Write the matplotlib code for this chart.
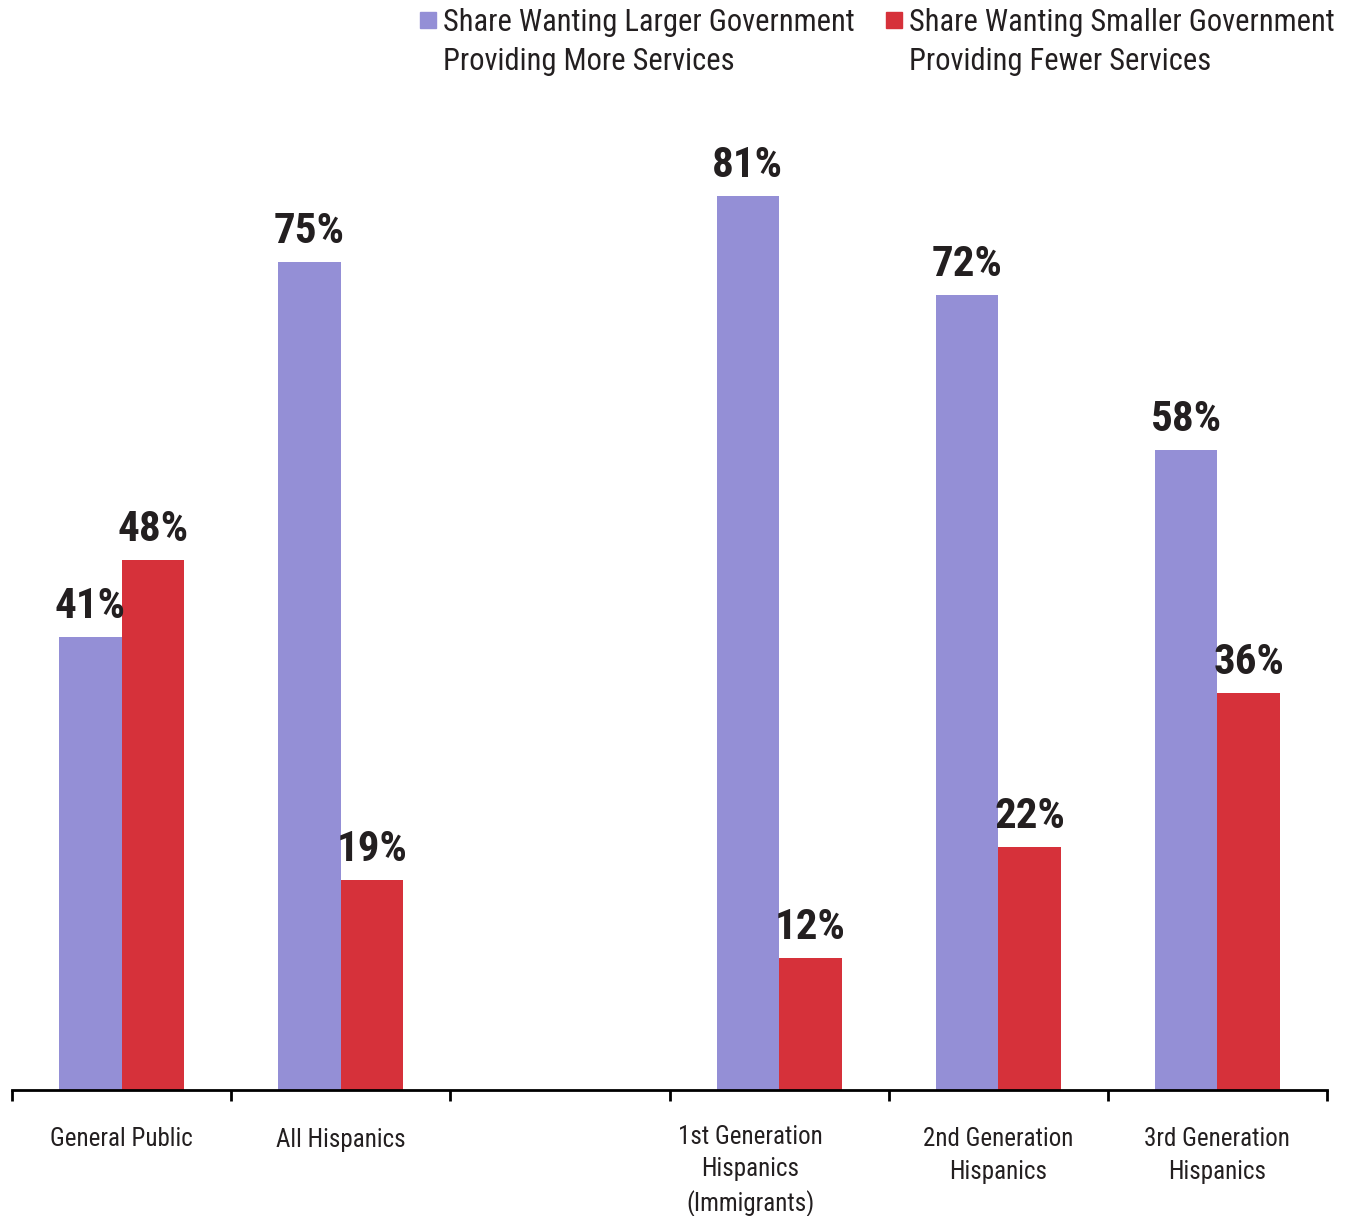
import numpy as np
import matplotlib
matplotlib.use('Agg')
import matplotlib.pyplot as plt
import matplotlib.transforms as mtransforms
from matplotlib.patches import Rectangle

plt.rcParams['font.family'] = ['Roboto Condensed', 'Liberation Sans', 'DejaVu Sans']

categories = ['General Public', 'All Hispanics', '',
              '1st Generation\nHispanics\n(Immigrants)',
              '2nd Generation\nHispanics', '3rd Generation\nHispanics']
larger = [41, 75, None, 81, 72, 58]
smaller = [48, 19, None, 12, 22, 36]
legend_labels = ['Share Wanting Larger Government\nProviding More Services',
                 'Share Wanting Smaller Government\nProviding Fewer Services']

purple = '#948FD6'
red = '#D6313A'
ink = '#231F20'

fig = plt.figure(figsize=(13.51, 12.16), dpi=100)
ax = fig.add_axes([12/1351, 126/1216, (1327-12)/1351, 0.9207 - 126/1216])

w = 0.285
centers = np.arange(len(categories)) + 0.5
for c, a, b in zip(centers, larger, smaller):
    if a is None:
        continue
    ax.bar(c - w/2, a, w, color=purple)
    ax.bar(c + w/2, b, w, color=red)
    ax.text(c - w/2, a + 0.9, f'{a}%', ha='center', va='bottom',
            fontsize=31, fontweight='bold', color=ink)
    ax.text(c + w/2, b + 0.9, f'{b}%', ha='center', va='bottom',
            fontsize=31, fontweight='bold', color=ink)

ax.set_xlim(0, len(categories))
ax.set_ylim(0, 90)
for s in ['top', 'right', 'left']:
    ax.spines[s].set_visible(False)
ax.spines['bottom'].set_linewidth(2)
ax.set_yticks([])
ax.set_xticks(np.arange(len(categories) + 1))
ax.set_xticklabels([])
ax.tick_params(axis='x', which='major', direction='out', length=8, width=2)
ax.set_xticks(centers, minor=True)
ax.set_xticklabels(categories, minor=True, fontsize=18, color=ink,
                   linespacing=1.45, va='top')
ax.tick_params(axis='x', which='minor', length=0, pad=27)
# the immigrants label sits a bit left of its slot centre in the original
lbl = ax.get_xticklabels(minor=True)[3]
lbl.set_transform(lbl.get_transform() +
                  mtransforms.ScaledTranslation(-0.29, 0.03, fig.dpi_scale_trans))

# legend
for x0, col, lab in [(420, purple, legend_labels[0]), (886, red, legend_labels[1])]:
    fig.patches.append(Rectangle((x0/1351, 1 - 28/1216), 16/1351, 16/1216,
                                 transform=fig.transFigure, color=col))
    fig.text((x0 + 23)/1351, 1 - 8/1216, lab, ha='left', va='top',
             fontsize=22, color=ink, linespacing=1.42)

fig.savefig('out.png', dpi=100)
